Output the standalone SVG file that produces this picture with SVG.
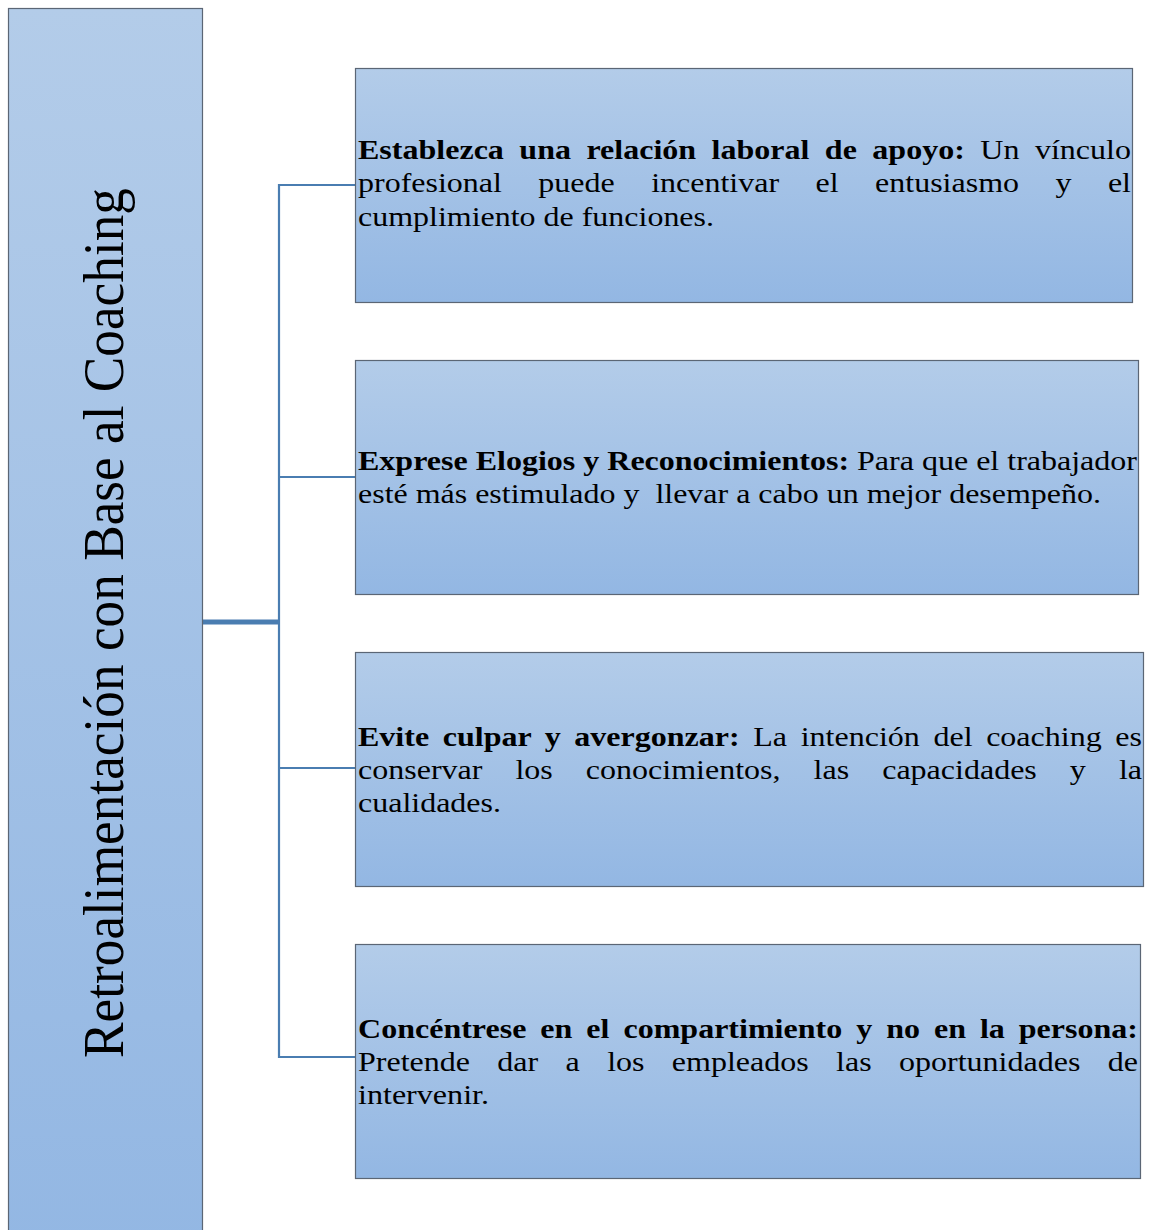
<svg xmlns="http://www.w3.org/2000/svg" width="1151" height="1230" viewBox="0 0 1151 1230">
  <defs>
    <linearGradient id="fill" x1="0" y1="0" x2="0" y2="1">
      <stop offset="0" stop-color="#b3cce9"/>
      <stop offset="1" stop-color="#93b7e3"/>
    </linearGradient>
    <style>
      .box { fill: url(#fill); stroke: #5b6675; stroke-width: 1.2; }
      .link { fill: none; stroke: #4a7db1; stroke-width: 2.2; }
      .trunk { fill: none; stroke: #4a7db1; stroke-width: 5; }
      .txt { font-family: "Liberation Serif", "Times New Roman", serif; font-size: 28px; fill: #000; }
      .b { font-weight: bold; }
      .title { font-family: "Liberation Serif", "Times New Roman", serif; font-size: 56px; fill: #000; }
    </style>
  </defs>

  <rect width="1151" height="1230" fill="#fff"/>

  <!-- connectors -->
  <g id="connectors">
    <line class="trunk" x1="202" y1="622" x2="279" y2="622"/>
    <path class="link" d="M355 185 H279 V1057 H355"/>
    <line class="link" x1="279" y1="477" x2="355" y2="477"/>
    <line class="link" x1="279" y1="768" x2="355" y2="768"/>
  </g>

  <!-- root node -->
  <g id="root">
    <rect class="box" x="8.5" y="8.5" width="194" height="1240"/>
    <text class="title" transform="translate(123 1058) rotate(-90)" textLength="870" lengthAdjust="spacingAndGlyphs">Retroalimentación con Base al Coaching</text>
  </g>

  <!-- item 1 (justified lines use word-spacing, then stretched to the column width) -->
  <g id="item1">
    <rect class="box" x="355.5" y="68.5" width="777" height="234"/>
    <text class="txt" x="358" y="159" word-spacing="6.5" textLength="773" lengthAdjust="spacingAndGlyphs"><tspan class="b">Establezca una relación laboral de apoyo:</tspan> Un vínculo</text>
    <text class="txt" x="358" y="192" word-spacing="24.9" textLength="773" lengthAdjust="spacingAndGlyphs">profesional puede incentivar el entusiasmo y el</text>
    <text class="txt" x="358" y="226" textLength="356" lengthAdjust="spacingAndGlyphs">cumplimiento de funciones.</text>
  </g>

  <!-- item 2 -->
  <g id="item2">
    <rect class="box" x="355.5" y="360.5" width="783" height="234"/>
    <text class="txt" x="358" y="470" textLength="779" lengthAdjust="spacingAndGlyphs"><tspan class="b">Exprese Elogios y Reconocimientos:</tspan> Para que el trabajador</text>
    <text class="txt" x="358" y="503" textLength="743" lengthAdjust="spacingAndGlyphs" xml:space="preserve">esté más estimulado y  llevar a cabo un mejor desempeño.</text>
  </g>

  <!-- item 3 -->
  <g id="item3">
    <rect class="box" x="355.5" y="652.5" width="788" height="234"/>
    <text class="txt" x="358" y="746" word-spacing="4.9" textLength="784" lengthAdjust="spacingAndGlyphs"><tspan class="b">Evite culpar y avergonzar:</tspan> La intención del coaching es</text>
    <text class="txt" x="358" y="779" word-spacing="21.9" textLength="784" lengthAdjust="spacingAndGlyphs">conservar los conocimientos, las capacidades y la</text>
    <text class="txt" x="358" y="812" textLength="143" lengthAdjust="spacingAndGlyphs">cualidades.</text>
  </g>

  <!-- item 4 -->
  <g id="item4">
    <rect class="box" x="355.5" y="944.5" width="785" height="234"/>
    <text class="txt b" x="358" y="1038" word-spacing="5.2" textLength="780" lengthAdjust="spacingAndGlyphs">Concéntrese en el compartimiento y no en la persona:</text>
    <text class="txt" x="358" y="1071" word-spacing="16.9" textLength="780" lengthAdjust="spacingAndGlyphs">Pretende dar a los empleados las oportunidades de</text>
    <text class="txt" x="358" y="1104" textLength="131" lengthAdjust="spacingAndGlyphs">intervenir.</text>
  </g>
</svg>
